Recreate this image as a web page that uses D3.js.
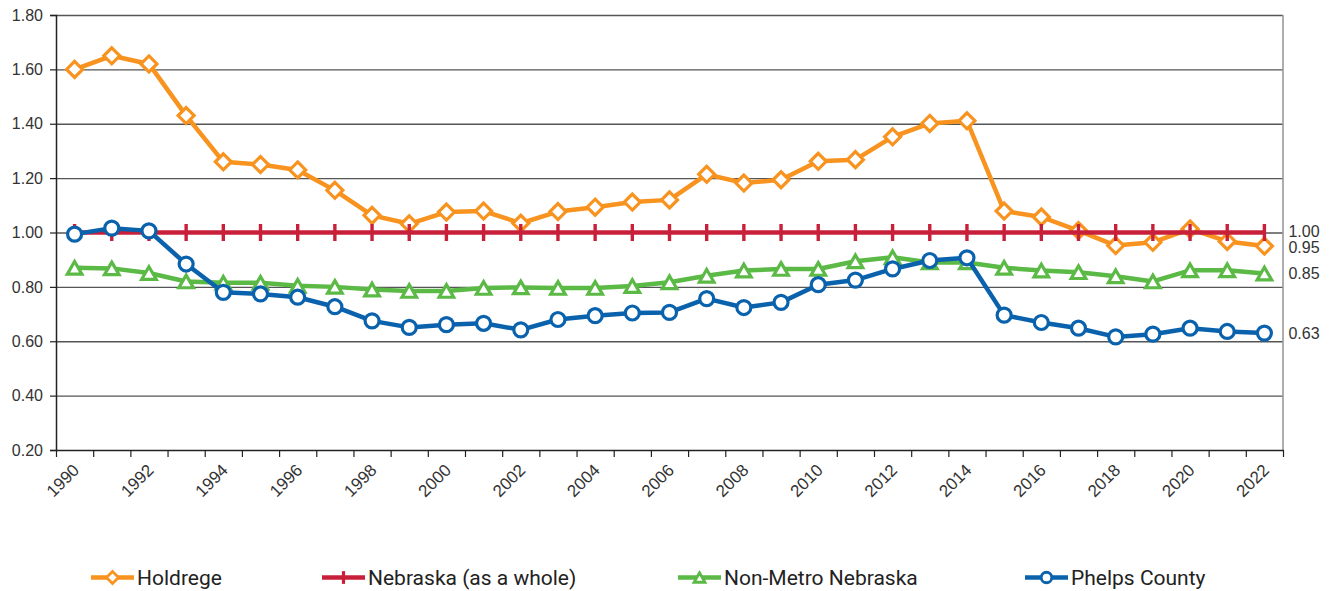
<!DOCTYPE html>
<html>
<head>
<meta charset="utf-8">
<script src="https://cdn.jsdelivr.net/npm/d3@7"></script>
<style>
  body { margin: 0; background: #fff; }
  svg { display: block; }
</style>
</head>
<body>
<svg id="chart" width="1339" height="591"></svg>
<script>
// ---- data ----
const years = d3.range(1990, 2023);
const holdrege = [1.60, 1.65, 1.62, 1.43, 1.26, 1.25, 1.23, 1.155, 1.063, 1.032, 1.075, 1.079, 1.034, 1.077, 1.093, 1.112, 1.12,
  1.214, 1.182, 1.194, 1.262, 1.268, 1.352, 1.401, 1.411, 1.079, 1.057, 1.007, 0.952, 0.964, 1.013, 0.967, 0.95];
const nebraska = years.map(() => 1.0);
const nonMetro = [0.87, 0.868, 0.851, 0.82, 0.815, 0.815, 0.804, 0.80, 0.79, 0.785, 0.785, 0.796, 0.798, 0.796, 0.796, 0.803, 0.817,
  0.841, 0.86, 0.866, 0.866, 0.894, 0.909, 0.89, 0.89, 0.87, 0.86, 0.854, 0.839, 0.82, 0.861, 0.861, 0.849];
const phelps = [0.994, 1.016, 1.006, 0.884, 0.78, 0.774, 0.762, 0.727, 0.675, 0.651, 0.661, 0.666, 0.642, 0.68, 0.694, 0.704, 0.706,
  0.757, 0.724, 0.743, 0.808, 0.825, 0.866, 0.897, 0.907, 0.696, 0.669, 0.648, 0.616, 0.626, 0.648, 0.636, 0.63];
const yTicks = [0.2, 0.4, 0.6, 0.8, 1.0, 1.2, 1.4, 1.6, 1.8];
const labelYears = years.filter((y) => y % 2 === 0);

const series = [
  { name: "Holdrege", values: holdrege, color: "#F7931E", marker: "diamond", labelNudge: 1.5 },
  { name: "Nebraska (as a whole)", values: nebraska, color: "#C8203A", marker: "plus", labelNudge: -1.5 },
  { name: "Non-Metro Nebraska", values: nonMetro, color: "#5BB946", marker: "triangle", labelNudge: 0 },
  { name: "Phelps County", values: phelps, color: "#0A62AD", marker: "circle", labelNudge: 0 },
];

main();

function main() {
  const svg = d3.select("#chart");
  const margin = { left: 56, right: 1283, top: 15, bottom: 450 };
  const axisFont = "16px 'Liberation Sans', Arial, sans-serif";

  /* scales */
  const x = d3.scaleBand().domain(years).range([margin.left, margin.right]);
  const xEdge = d3.scaleLinear().domain([0, years.length]).range([margin.left, margin.right]);
  const y = d3.scaleLinear().domain([0.2, 1.8]).range([margin.bottom, margin.top]);
  const cx = (yr) => x(yr) + x.bandwidth() / 2;

  /* gridlines */
  svg.append("g")
    .attr("transform", `translate(${margin.left},0)`)
    .call(d3.axisLeft(y).tickValues(yTicks.slice(1)).tickSize(-(margin.right - margin.left)).tickFormat(""))
    .call((g) => g.select(".domain").remove())
    .call((g) => g.selectAll(".tick line").attr("stroke", "#555").attr("stroke-width", 1.3));

  /* right border */
  svg.append("line")
    .attr("x1", margin.right).attr("x2", margin.right)
    .attr("y1", margin.top).attr("y2", margin.bottom)
    .attr("stroke", "#9a9a9a").attr("stroke-width", 1.6);

  /* y axis */
  svg.append("g")
    .attr("transform", `translate(${margin.left},0)`)
    .call(d3.axisLeft(y).tickValues(yTicks).tickSize(6).tickPadding(7).tickFormat(d3.format(".2f")))
    .call((g) => g.select(".domain").attr("stroke", "#222").attr("stroke-width", 1.5))
    .call((g) => g.selectAll(".tick line").attr("stroke", "#222").attr("stroke-width", 1.2))
    .call((g) => g.selectAll("text").attr("fill", "#333").style("font", axisFont));

  /* x axis: ticks between categories, labels every other year */
  svg.append("g")
    .attr("transform", `translate(0,${margin.bottom})`)
    .call(d3.axisBottom(xEdge).tickValues(d3.range(0, years.length + 1)).tickSize(7).tickSizeOuter(0).tickFormat(""))
    .call((g) => g.select(".domain").attr("stroke", "#222").attr("stroke-width", 1.5))
    .call((g) => g.selectAll(".tick line").attr("stroke", "#222").attr("stroke-width", 1.2));

  svg.append("g")
    .selectAll("text")
    .data(labelYears)
    .join("text")
    .attr("transform", (d) => `translate(${cx(d) + 1.5},${margin.bottom + 17}) rotate(-45)`)
    .attr("dy", "0.35em")
    .attr("text-anchor", "end")
    .attr("fill", "#333")
    .style("font", "17px 'Liberation Sans', Arial, sans-serif")
    .text((d) => d);

  /* lines and markers */
  const line = d3.line()
    .x((d, i) => cx(years[i]))
    .y((d) => y(d));

  series.forEach((s) => {
    const g = svg.append("g");
    g.append("path")
      .attr("d", line(s.values))
      .attr("fill", "none")
      .attr("stroke", s.color)
      .attr("stroke-width", 4.5)
      .attr("stroke-linejoin", "round");
    g.selectAll("path.mk")
      .data(s.values)
      .join("path")
      .attr("class", "mk")
      .attr("transform", (d, i) => `translate(${cx(years[i])},${y(d)})`)
      .attr("d", markerPath(s.marker, 1))
      .attr("fill", s.marker === "plus" ? "none" : "#fff")
      .attr("stroke", s.color)
      .attr("stroke-width", s.marker === "plus" ? 3.4 : 3.2);
  });

  /* end labels */
  svg.append("g")
    .selectAll("text")
    .data(series)
    .join("text")
    .attr("x", cx(years[years.length - 1]) + 24)
    .attr("y", (d) => y(d.values[d.values.length - 1]) + d.labelNudge)
    .attr("dy", "0.35em")
    .attr("fill", "#333")
    .style("font", axisFont)
    .text((d) => d3.format(".2f")(d.values[d.values.length - 1]));

  /* legend */
  const legendX = [91, 322, 678, 1025];
  const legend = svg.append("g")
    .selectAll("g")
    .data(series)
    .join("g")
    .attr("transform", (d, i) => `translate(${legendX[i]},577.5)`);
  legend.append("line")
    .attr("x1", 0).attr("x2", 43)
    .attr("stroke", (d) => d.color)
    .attr("stroke-width", 4.5);
  legend.append("path")
    .attr("transform", "translate(21.5,0)")
    .attr("d", (d) => markerPath(d.marker, 0.75))
    .attr("fill", (d) => (d.marker === "plus" ? "none" : "#fff"))
    .attr("stroke", (d) => d.color)
    .attr("stroke-width", (d) => (d.marker === "plus" ? 3.2 : 2.8));
  legend.append("text")
    .attr("x", 46)
    .attr("dy", "0.36em")
    .attr("fill", "#222")
    .style("font", "21px Roboto, 'Noto Sans', sans-serif")
    .text((d) => d.name);
}

function markerPath(type, k) {
  const p = d3.path();
  if (type === "diamond") {
    const r = 8 * k;
    p.moveTo(0, -r); p.lineTo(r, 0); p.lineTo(0, r); p.lineTo(-r, 0); p.closePath();
  } else if (type === "triangle") {
    const w = 7.3 * k, h = 6.3 * k;
    p.moveTo(0, -h); p.lineTo(w, h); p.lineTo(-w, h); p.closePath();
  } else if (type === "circle") {
    const r = 7 * k;
    p.moveTo(r, 0); p.arc(0, 0, r, 0, 2 * Math.PI);
  } else if (type === "plus") {
    const r = 8.5 * k;
    p.moveTo(0, -r); p.lineTo(0, r);
  }
  return p.toString();
}
</script>
</body>
</html>
